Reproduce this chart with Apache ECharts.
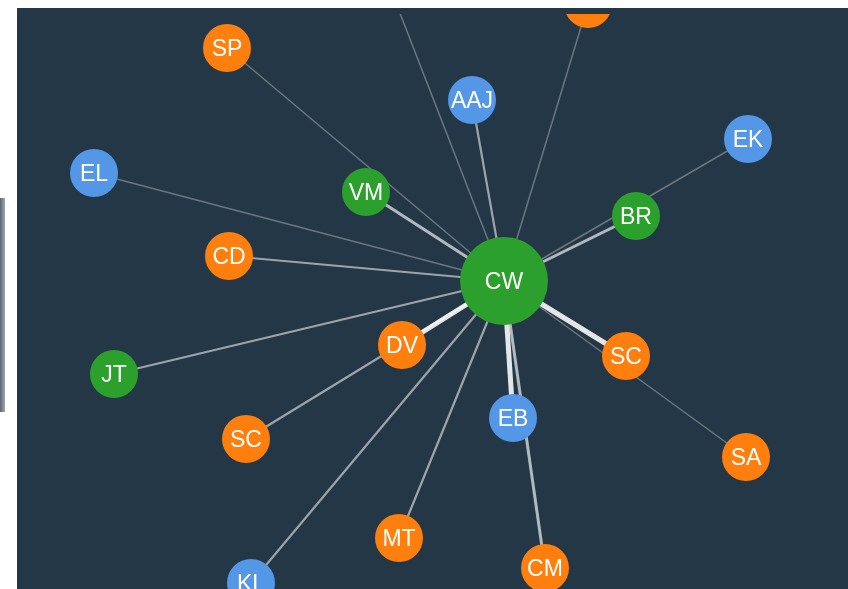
<!DOCTYPE html>
<html>
<head>
<meta charset="utf-8">
<script src="https://cdn.jsdelivr.net/npm/echarts@6/dist/echarts.min.js"></script>
<style>
  html, body { margin: 0; padding: 0; background: #ffffff; width: 848px; height: 589px; overflow: hidden; }
  #barra { position: absolute; left: 0; top: 198px; width: 5px; height: 214px;
           background: linear-gradient(to right, #5b6570, #a0a8b0); }
  #painel { position: absolute; left: 17px; top: 8px; width: 831px; height: 581px; background: #233746; }
  #grafico { position: absolute; left: 17px; top: 14px; width: 831px; height: 575px; }
</style>
</head>
<body>
<div id="barra"></div>
<div id="painel"></div>
<div id="grafico"></div>
<script>
// nós do grafo (posição no plano do desenho)
const nomes  = ['CW', 'SP', '?', 'AAJ', 'EK', 'EL', 'VM', 'BR', 'CD', 'DV', 'SC', 'JT', 'EB', 'SC', 'SA', 'MT', 'CM', 'KL', '?'];
const grupos = ['g', 'o', 'o', 'b', 'b', 'b', 'g', 'g', 'o', 'o', 'o', 'g', 'b', 'o', 'o', 'o', 'o', 'b', 'o'];
const posX   = [504, 227, 588, 472, 748, 94, 366, 636, 229, 402, 626, 114, 513, 246, 746, 399, 545, 251, 389];
const posY   = [281, 48, 4, 100, 139, 173, 192, 216, 256, 345, 356, 374, 418, 439, 457, 538, 568, 583, -15];
const tamanhos = [88, 48, 48, 48, 48, 48, 48, 48, 48, 48, 48, 48, 48, 48, 48, 48, 48, 48, 48];

// ligações: todas partem de CW (índice 0)
const origens = [1, 18, 3, 2, 4, 7, 5, 6, 8, 11, 9, 13, 17, 15, 12, 16, 10, 14];
const pesos   = [1, 1, 2, 1, 1, 3, 1, 3, 2, 2, 5, 2, 2, 2, 5, 3, 5, 1];

const cores = { g: '#2ca02c', o: '#ff7f0e', b: '#5497e6' };

function estiloLigacao(p) {
    const larg = { 1: 1.5, 2: 2.2, 3: 3, 5: 5 }[p];
    const opac = { 1: 0.32, 2: 0.55, 3: 0.65, 5: 0.88 }[p];
    return { width: larg, color: '#ffffff', opacity: opac };
}

const dadosNos = nomes.map((n, i) => ({
    id: 'n' + i,
    name: n,
    value: [posX[i], posY[i]],
    symbolSize: tamanhos[i],
    itemStyle: { color: cores[grupos[i]] }
}));

const dadosLigacoes = origens.map((s, i) => ({
    source: 'n' + s,
    target: 'n0',
    lineStyle: estiloLigacao(pesos[i])
}));

const chart = echarts.init(document.getElementById('grafico'));
chart.setOption({
    backgroundColor: 'transparent',
    animation: false,
    grid: { left: 0, right: 0, top: 0, bottom: 0 },
    xAxis: { type: 'value', min: 17, max: 848, show: false },
    yAxis: { type: 'value', min: 14, max: 589, inverse: true, show: false },
    series: [{
        type: 'graph',
        layout: 'none',
        coordinateSystem: 'cartesian2d',
        symbol: 'circle',
        data: dadosNos,
        links: dadosLigacoes,
        label: {
            show: true,
            position: 'inside',
            offset: [0, 2],
            formatter: '{b}',
            color: '#ffffff',
            fontSize: 23,
            fontFamily: 'Liberation Sans, Arial, sans-serif'
        },
        lineStyle: { curveness: 0 },
        emphasis: { disabled: true }
    }]
});
</script>
</body>
</html>
